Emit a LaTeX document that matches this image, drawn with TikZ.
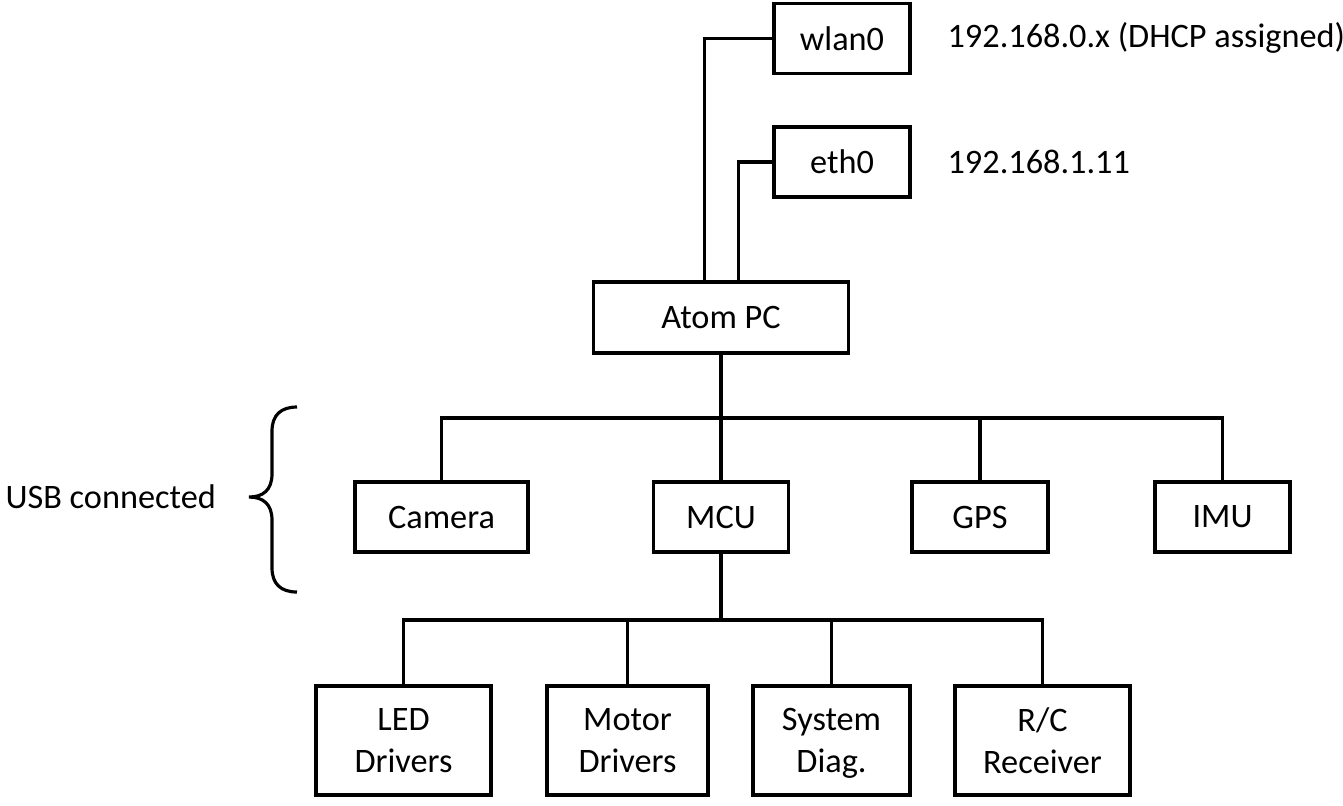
\documentclass[tikz,border=0pt]{standalone}
\usepackage{fontspec}
\setmainfont{Carlito}
\begin{document}
\begin{tikzpicture}[x=0.01cm,y=-0.01cm,line width=0.9pt,
  font=\fontsize{9.75}{12.1}\selectfont,
  box/.style={draw,line width=0.9pt,minimum height=0.70cm,align=center,inner sep=0pt},
  tallbox/.style={box,minimum height=1.09cm,text depth=0pt},
  note/.style={anchor=west,inner sep=0pt}]
\useasboundingbox (0,0) rectangle (1343,805);
% network side
\node[box,minimum width=1.36cm] (wlan) at (842,38.5) {wlan0};
\node[box,minimum width=1.36cm] (eth) at (842,162) {eth0};
\node[box,minimum width=2.55cm,minimum height=0.71cm] (atom) at (721,317.5) {Atom PC};
\node[note] (wlanip) at (946,38) {192.168.0.x (DHCP assigned)};
\node[note] (ethip) at (946,162) {192.168.1.11};
\draw (wlan.west) -| ([xshift=-0.165cm]atom.north);
\draw (eth.west) -| ([xshift=0.175cm]atom.north);
% usb devices
\node[box,minimum width=1.73cm] (cam) at (441.5,517) {Camera};
\node[box,minimum width=1.35cm] (mcu) at (721,517) {MCU};
\node[box,minimum width=1.36cm] (gps) at (980,517) {GPS};
\node[box,minimum width=1.35cm] (imu) at (1222.5,517) {IMU};
\coordinate (usb) at (721,418);
\draw (atom.south) -- (mcu.north);
\draw (cam.north) |- (usb) -| (imu.north);
\draw (gps.north) -- (gps.north |- usb);
\node[note] (usblabel) at (4,497) {USB connected};
\draw (297,407) .. controls (281,407) and (272,415) .. (272,431) -- (272,474)
  .. controls (272,490) and (263,497) .. (249,497)
  .. controls (263,497) and (272,504) .. (272,520) -- (272,568)
  .. controls (272,584) and (281,592) .. (297,592);
% mcu side
\node[tallbox,minimum width=1.75cm] (led) at (403.5,740.5) {LED\\Drivers};
\node[tallbox,minimum width=1.61cm] (motor) at (627.5,740.5) {Motor\\Drivers};
\node[tallbox,minimum width=1.57cm] (diag) at (831.5,740.5) {System\\Diag.};
\node[tallbox,minimum width=1.75cm] (rc) at (1042.5,740.5) {R/C\\Receiver};
\coordinate (ctl) at (721,620);
\draw (mcu.south) -- (ctl);
\draw (led.north) |- (ctl) -| (rc.north);
\draw (motor.north) -- (motor.north |- ctl);
\draw (diag.north) -- (diag.north |- ctl);
\end{tikzpicture}
\end{document}
